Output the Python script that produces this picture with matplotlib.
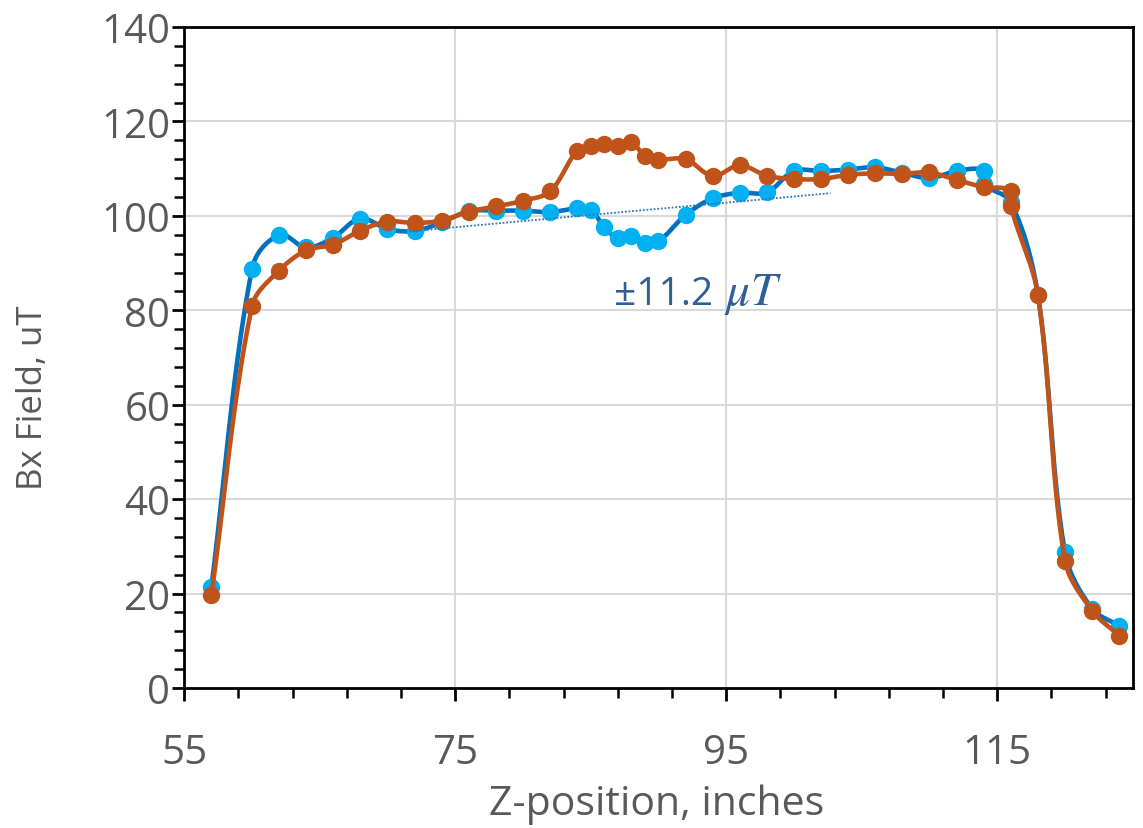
import numpy as np
import matplotlib
matplotlib.use("Agg")
import matplotlib.pyplot as plt
from matplotlib.ticker import MultipleLocator

# ---- data ----
blue_x = [57, 60, 62, 64, 66, 68, 70, 72, 74, 76, 78, 80, 82, 84, 85, 86, 87, 88, 89, 90,
          92, 94, 96, 98, 100, 102, 104, 106, 108, 110, 112, 114, 114, 116, 118, 120, 122, 124]
blue_y = [21.3, 88.8, 95.9, 93.3, 95.4, 99.4, 97.2, 96.8, 98.6, 101.0, 101.1, 101.1, 100.8,
          101.6, 101.3, 97.6, 95.3, 95.7, 94.2, 94.6, 100.2, 103.7, 104.9, 105.0, 109.5,
          109.5, 109.8, 110.3, 109.1, 108.0, 109.5, 109.6, 106.8, 102.9, 83.3, 28.7, 16.8, 13.2]

orange_x = [57, 60, 62, 64, 66, 68, 70, 72, 74, 76, 78, 80, 82, 84, 85, 86, 87, 88, 89, 90,
            92, 94, 96, 98, 100, 102, 104, 106, 108, 110, 112, 114, 116, 116, 118, 120, 122, 124]
orange_y = [19.6, 80.9, 88.4, 92.7, 93.9, 96.9, 98.8, 98.5, 99.0, 100.9, 102.0, 103.2, 105.2,
            113.8, 114.7, 115.3, 114.9, 115.6, 112.6, 111.9, 112.0, 108.5, 110.7, 108.5, 107.8,
            107.8, 108.7, 109.0, 108.9, 109.2, 107.6, 106.1, 105.3, 102.0, 83.3, 27.0, 16.4, 11.1]

trend_x = [70.8, 102.7]
trend_y = [96.5, 104.8]

annot_value = "±11.2"
annot_unit = r"$\mu T$"
annot_x, annot_y = 86.7, 81.4

xlabel = "Z-position, inches"
ylabel = "Bx Field, uT"


def smooth(ax, x, y, n=30):
    """Excel-like smoothed line built in display space from cubic Bezier segments."""
    P = ax.transData.transform(np.column_stack([x, y]).astype(float))
    P = np.vstack([P[0], P, P[-1]])
    t = np.linspace(0, 1, n)[:, None]
    segs = []
    for i in range(1, len(P) - 2):
        p0, p1, p2, p3 = P[i - 1], P[i], P[i + 1], P[i + 2]
        L = np.linalg.norm(p2 - p1)
        d1 = p2 - p0
        d2 = p3 - p1
        n1 = np.linalg.norm(d1)
        n2 = np.linalg.norm(d2)
        c1 = p1 + (d1 / n1 * L / 3.0 if n1 > 0 else 0)
        c2 = p2 - (d2 / n2 * L / 3.0 if n2 > 0 else 0)
        seg = ((1 - t) ** 3) * p1 + 3 * ((1 - t) ** 2) * t * c1 + 3 * (1 - t) * t ** 2 * c2 + t ** 3 * p2
        segs.append(seg if i == 1 else seg[1:])
    S = ax.transData.inverted().transform(np.vstack(segs))
    return S[:, 0], S[:, 1]


plt.rcParams['font.family'] = ['Open Sans', 'DejaVu Sans']
plt.rcParams['mathtext.fontset'] = 'stix'

fig = plt.figure(figsize=(11.43, 8.29), dpi=100)
ax = fig.add_axes([0.1612, 0.1689, 0.9910 - 0.1612, 0.9662 - 0.1689])
ax.set_xlim(55, 125)
ax.set_ylim(0, 140)

gray = '#595959'
blue_line = '#0070C0'
blue_mark = '#00B0F0'
orange = '#C0531A'
annot_color = '#2F5F98'

sx, sy = smooth(ax, blue_x, blue_y)
ax.plot(sx, sy, color=blue_line, lw=3.3, zorder=3, solid_capstyle='round')
ax.plot(blue_x, blue_y, 'o', color=blue_mark, ms=11.5, mec=blue_mark, zorder=4)

ox, oy = smooth(ax, orange_x, orange_y)
ax.plot(ox, oy, color=orange, lw=3.3, zorder=5, solid_capstyle='round')
ax.plot(orange_x, orange_y, 'o', color=orange, ms=11.5, mec=orange, zorder=6)

ax.plot(trend_x, trend_y, color='#2E75B6', lw=1.3, ls=(0, (1, 1)), zorder=7)

t1 = ax.text(annot_x, annot_y, annot_value, color=annot_color, fontsize=28,
             va='baseline', ha='left', zorder=8)
fig.canvas.draw()
bb = t1.get_window_extent()
x2 = ax.transData.inverted().transform((bb.x1 + 11, 0))[0]
ax.text(x2, annot_y, annot_unit, color=annot_color, fontsize=34,
        va='baseline', ha='left', zorder=8)

ax.xaxis.set_major_locator(MultipleLocator(20, offset=55))
ax.xaxis.set_minor_locator(MultipleLocator(4, offset=3))
ax.yaxis.set_major_locator(MultipleLocator(20))
ax.yaxis.set_minor_locator(MultipleLocator(4))

ax.grid(True, which='major', color='#D9D9D9', lw=1.5, zorder=0)
ax.set_axisbelow(True)

for s in ax.spines.values():
    s.set_color('black')
    s.set_linewidth(2.0)

ax.tick_params(which='major', direction='out', length=9, width=2, color='black',
               labelsize=29, labelcolor=gray)
ax.tick_params(which='minor', direction='out', length=7, width=1.8, color='black')
ax.tick_params(axis='y', which='major', pad=1)
ax.tick_params(axis='x', which='major', pad=23)

ax.set_xlabel(xlabel, fontsize=29.5, color=gray)
ax.set_ylabel(ylabel, fontsize=25, color=gray)
ax.xaxis.set_label_coords(0.498, -0.145)
ax.yaxis.set_label_coords(-0.142, 0.44)

fig.savefig('out.png', dpi=100)
